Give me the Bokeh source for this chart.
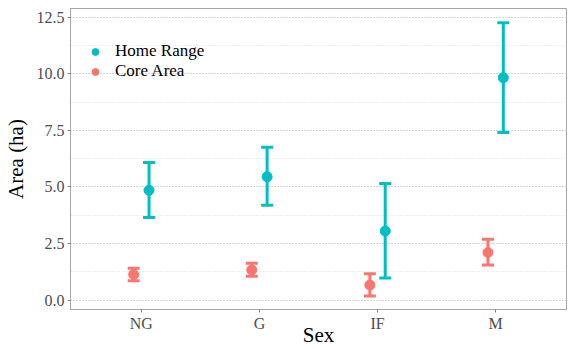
from bokeh.plotting import figure
from bokeh.models import (ColumnDataSource, Range1d, FactorRange, SingleIntervalTicker,
                          PrintfTickFormatter, Legend, LegendItem)
from bokeh.transform import dodge
from bokeh.embed import file_html
from bokeh.resources import INLINE

sexes = ["NG", "G", "IF", "M"]
home_mean = [4.85, 5.45, 3.05, 9.83]
home_low = [3.65, 4.19, 0.97, 7.41]
home_high = [6.08, 6.75, 5.15, 12.26]
core_mean = [1.13, 1.33, 0.66, 2.10]
core_low = [0.85, 1.05, 0.18, 1.55]
core_high = [1.40, 1.62, 1.16, 2.69]

TEAL = "#00BFC4"
SALMON = "#F8766D"
FONT = "Liberation Serif"

p = figure(width=568, height=349, output_backend="svg", toolbar_location=None,
           x_range=FactorRange(factors=sexes, range_padding=0.1, range_padding_units="absolute"),
           y_range=Range1d(-0.42, 12.89),
           min_border_left=70, min_border_right=2, min_border_top=8, min_border_bottom=39)

home = ColumnDataSource(dict(x=sexes, m=home_mean, lo=home_low, hi=home_high))
core = ColumnDataSource(dict(x=sexes, m=core_mean, lo=core_low, hi=core_high))

items = []
for src, off, color, name in [(home, 0.065, TEAL, "Home Range"), (core, -0.065, SALMON, "Core Area")]:
    xs = dodge("x", off, range=p.x_range)
    p.segment(x0=xs, x1=xs, y0="lo", y1="hi", source=src, line_color=color, line_width=3)
    p.scatter(x=xs, y="hi", source=src, marker="dash", size=12, line_color=color, line_width=3)
    cap = p.scatter(x=xs, y="lo", source=src, marker="dash", size=12, line_color=color, line_width=3)
    pt = p.scatter(x=xs, y="m", source=src, marker="circle", size=10, fill_color=color, line_color=color)
    items.append(LegendItem(label=name, renderers=[cap, pt]))

lg = Legend(items=items, location=(15, 228), padding=0, spacing=0, margin=0,
            glyph_width=20, glyph_height=17, label_height=17, label_standoff=10,
            label_text_font=FONT, label_text_font_size="17px", label_text_color="black",
            border_line_color=None, background_fill_alpha=0)
p.add_layout(lg, "center")

p.yaxis.ticker = SingleIntervalTicker(interval=2.5, num_minor_ticks=2)
p.yaxis.formatter = PrintfTickFormatter(format="%.1f")

for ax in (p.xaxis[0], p.yaxis[0]):
    ax.axis_line_color = "#A6A6A6"
    ax.major_tick_line_color = "#7F7F7F"
    ax.major_tick_out = 3
    ax.major_tick_in = 0
    ax.minor_tick_line_color = None
    ax.major_label_text_font = FONT
    ax.major_label_text_font_size = "16px"
    ax.major_label_text_color = "#4D4D4D"
    ax.major_label_standoff = 2
    ax.axis_label_text_font = FONT
    ax.axis_label_text_font_size = "21px"
    ax.axis_label_text_font_style = "normal"
    ax.axis_label_text_color = "black"

p.xaxis.axis_label = "Sex"
p.xaxis.axis_label_standoff = -12
p.yaxis.axis_label = "Area (ha)"
p.yaxis.axis_label_standoff = 6

p.xgrid.grid_line_color = None
p.ygrid.grid_line_color = "#BDBDBD"
p.ygrid.grid_line_dash = "1 2"
p.ygrid.grid_line_width = 1
p.ygrid.minor_grid_line_color = "#DCDCDC"
p.ygrid.minor_grid_line_dash = "1 2"

p.outline_line_color = "#A6A6A6"
p.outline_line_width = 1
p.background_fill_color = "white"
p.border_fill_color = "white"

open("out.html", "w").write(file_html(p, INLINE))
